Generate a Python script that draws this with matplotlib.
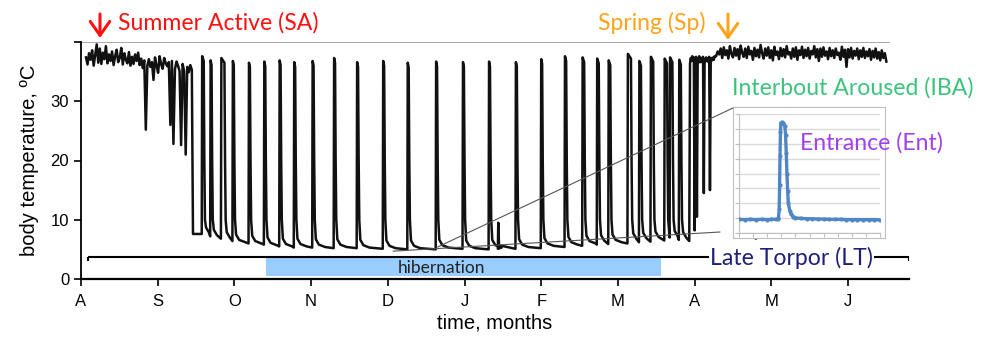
import numpy as np
import matplotlib.pyplot as plt
from matplotlib.patches import ConnectionPatch

plt.rcParams['font.family'] = ['Liberation Sans', 'DejaVu Sans']

months = ['A', 'S', 'O', 'N', 'D', 'J', 'F', 'M', 'A', 'M', 'J']

# summer active body temperature (deg C), read every ~0.02 month
summer_tb = [37.4, 36.2, 38.1, 37.0, 38.6, 36.0, 37.8, 39.6, 36.5, 38.9,
             36.3, 38.2, 37.1, 39.3, 36.4, 37.9, 36.8, 38.4, 36.1, 37.6,
             38.7, 36.6, 37.3, 39.0, 36.2, 38.1, 37.0, 36.4, 38.3, 36.0,
             37.5, 36.3, 37.9, 36.8, 38.2, 36.1, 37.2, 35.6, 36.9, 25.2,
             36.0, 37.1, 35.8, 36.6, 33.6, 37.4, 36.0, 34.8, 37.6, 36.2,
             35.5, 37.3, 36.4, 35.9, 36.6, 26.0, 36.8, 22.8, 35.4, 36.7,
             36.0, 35.1, 22.6, 36.3, 35.0, 21.0, 35.8, 34.9, 36.1, 35.3]

# arousals during hibernation: time (months from 1 Aug), peak Tb,
# torpor Tb before each arousal, time spent euthermic (months)
arousal_t = [1.58, 1.69, 1.83, 1.98, 2.19, 2.39, 2.59, 2.78, 3.02, 3.30,
             3.60, 3.94, 4.26, 4.63, 4.98, 5.32, 5.67, 6.00, 6.31, 6.54,
             6.73, 6.88, 7.13, 7.28, 7.43, 7.61, 7.68, 7.80]
arousal_peak = [37.6, 36.9, 37.3, 36.8, 36.5, 36.7, 36.9, 36.6, 36.8, 37.3,
                36.6, 36.8, 36.5, 36.7, 36.6, 36.7, 36.6, 37.1, 37.6, 37.4,
                37.2, 36.9, 38.0, 36.8, 37.5, 37.2, 37.4, 37.0]
torpor_floor = [7.6, 7.2, 6.8, 6.4, 6.0, 5.8, 5.5, 5.3, 5.3, 5.2,
                5.2, 5.1, 5.0, 5.0, 5.1, 5.0, 5.1, 5.2, 5.4, 5.6,
                5.8, 5.9, 6.0, 6.2, 6.3, 6.5, 7.0, 6.6, 6.4]
arousal_len = [0.02, 0.012, 0.04, 0.012, 0.012, 0.012, 0.012, 0.012, 0.012, 0.012,
               0.012, 0.012, 0.012, 0.012, 0.012, 0.012, 0.012, 0.012, 0.015, 0.02,
               0.02, 0.02, 0.04, 0.02, 0.03, 0.03, 0.03, 0.02]
partial_t = 5.44
partial_peak = 9.5

# end of hibernation, every 0.01 month
late_tb = [36.4, 37.3, 36.8, 37.6, 36.9, 37.4, 8.2, 36.7, 37.5, 10.5,
           37.2, 36.5, 37.6, 37.0, 36.6, 37.3, 36.8, 37.5, 14.5, 37.1,
           36.7, 37.4, 36.9, 37.2, 36.6, 37.5, 15.0, 36.8, 37.3, 36.9,
           37.4, 37.0, 37.6]

# spring active, every 0.02 month
spring_tb = [37.6, 38.4, 37.9, 38.9, 37.3, 39.1, 37.8, 38.6, 37.2, 39.3,
             38.0, 37.4, 39.0, 37.7, 38.8, 37.1, 39.4, 38.2, 37.5, 38.9,
             37.3, 39.2, 37.9, 38.5, 37.0, 39.0, 37.6, 38.7, 37.4, 39.5,
             38.1, 37.2, 38.9, 37.7, 39.1, 37.3, 38.6, 36.9, 39.2, 37.8,
             38.4, 37.1, 39.0, 37.6, 38.8, 37.4, 39.3, 37.9, 38.3, 37.2,
             38.9, 37.5, 39.1, 37.0, 38.6, 37.8, 39.2, 37.3, 38.7, 37.6,
             39.0, 37.2, 38.5, 37.9, 39.3, 37.4, 38.8, 36.8, 38.9, 37.5,
             39.1, 37.7, 38.4, 37.1, 39.0, 37.6, 38.6, 37.3, 38.9, 37.8,
             38.2, 37.0, 39.2, 37.5, 38.7, 35.8, 38.8, 37.4, 39.0, 37.2,
             38.5, 37.7, 38.9, 37.1, 38.6, 37.5, 39.0, 37.3, 38.4, 37.6,
             38.8, 37.0, 38.5, 37.4, 38.9, 37.2, 38.3, 36.9, 38.6, 37.3,
             38.1, 36.7]

hib_start, hib_end = 2.41, 7.56

# inset: one interbout arousal
inset_t = [0.0, 0.4, 0.8, 1.2, 1.6, 2.0, 2.3, 2.6, 2.75, 2.8, 2.85, 2.88, 2.91,
           2.94, 2.97, 3.05, 3.15, 3.25, 3.3, 3.35, 3.4, 3.45, 3.5, 3.6, 3.7,
           3.85, 4.0, 4.4, 4.8, 5.2, 5.6, 6.0, 6.4, 6.8, 7.2, 7.6, 8.0, 8.4,
           8.8, 9.2, 9.6, 10.0]
inset_tb = [4.6, 4.5, 4.6, 4.5, 4.6, 4.5, 4.6, 4.6, 4.7, 5.0, 8.0, 16.0, 26.0,
            34.0, 37.0, 37.2, 36.9, 36.0, 33.0, 27.0, 20.0, 14.0, 10.0, 7.5, 6.3,
            5.5, 5.1, 4.9, 4.8, 4.8, 4.7, 4.7, 4.6, 4.6, 4.6, 4.5, 4.5, 4.5,
            4.5, 4.5, 4.5, 4.4]

# ---- build the trace
t = list(np.linspace(0.065, 1.445, len(summer_tb)))
tb = list(summer_tb)
t.append(1.46)
tb.append(torpor_floor[0])
for i in range(len(arousal_t)):
    a, p, w = arousal_t[i], arousal_peak[i], arousal_len[i]
    f0, f1 = torpor_floor[i], torpor_floor[i + 1]
    nxt = arousal_t[i + 1] - 0.01 if i + 1 < len(arousal_t) else 7.93
    pts = [(a - 0.006, f0), (a, p), (a + w, p - 0.8), (a + w + 0.008, 20),
           (a + w + 0.016, 10), (a + w + 0.03, f1 + 1.5), (a + w + 0.07, f1 + 0.6),
           (a + w + 0.15, f1 + 0.2)]
    for pt in pts:
        if pt[0] < nxt or pt[0] <= a:
            t.append(pt[0])
            tb.append(pt[1])
    if a < partial_t < nxt:
        t += [partial_t - 0.005, partial_t, partial_t + 0.01]
        tb += [f1, partial_peak, f1 + 0.6]
t.append(7.93)
tb.append(torpor_floor[-1])
t += list(np.linspace(7.94, 8.26, len(late_tb)))
tb += late_tb
t += list(np.linspace(8.28, 10.50, len(spring_tb)))
tb += spring_tb

fig = plt.figure(figsize=(9.87, 3.42), dpi=100)
ax = fig.add_axes([81 / 987, 1 - 279 / 342, 828 / 987, 237 / 342])

ax.barh(2.05, hib_end - hib_start, left=hib_start, height=3.1, color='#99ccff', zorder=1)
ax.text(4.7, 1.9, 'hibernation', ha='center', va='center', fontsize=12.5,
        family='Lato', color='#222222')
ax.hlines(3.7, 0.09, 10.79, color='black', lw=1.5, zorder=2)
ax.vlines([0.09, 10.79], 3.1, 3.7, color='black', lw=1.5)

ax.plot(t, tb, color='#111111', lw=1.8, zorder=3)
ax.hlines(40, 0, 10.55, color='#999999', lw=1.2)

ax.set_xlim(0, 10.795)
ax.set_ylim(0, 40)
ax.set_xticks(range(len(months)))
ax.set_xticklabels(months)
ax.set_yticks([0, 10, 20, 30, 40])
ax.set_yticklabels(['0', '10', '20', '30', ''])
ax.tick_params(labelsize=12, length=5, width=1.2)
ax.tick_params(axis='x', pad=6)
for s in ['top', 'right']:
    ax.spines[s].set_visible(False)
ax.spines['left'].set_linewidth(1.3)
ax.spines['bottom'].set_linewidth(1.6)
ax.set_xlabel('time, months', fontsize=14.5, labelpad=3)
ax.set_ylabel('body temperature, ºC', fontsize=14.5, labelpad=8)
ax.patch.set_alpha(0)

# inset
box = fig.add_axes([733 / 987, 1 - 238 / 342, 152 / 987, 131 / 342])
box.set_xticks([])
box.set_yticks([])
for s in box.spines.values():
    s.set_color('#bfbfbf')
ins = fig.add_axes([739 / 987, 1 - 233 / 342, 141 / 987, 119 / 342])
ins.plot(inset_t, inset_tb, color='#4f86c6', lw=2.4, marker='o', ms=2.0, zorder=3)
ins.set_xlim(0, 10)
ins.set_ylim(0, 40)
ins.set_yticks(np.arange(0, 41, 5))
ins.set_xticks(range(11))
ins.set_xticklabels([])
ins.set_yticklabels([])
ins.grid(axis='y', color='#d9d9d9', lw=1)
ins.tick_params(length=3, color='#bfbfbf')
for s in ['top', 'right']:
    ins.spines[s].set_visible(False)
for s in ['left', 'bottom']:
    ins.spines[s].set_color('#bfbfbf')
ins.patch.set_alpha(0)

for xy_a, xy_b in [((4.65, 5.4), (733 / 987, 1 - 108 / 342)),
                   ((4.07, 4.7), (720 / 987, 1 - 232 / 342))]:
    fig.add_artist(ConnectionPatch(xyA=xy_a, coordsA=ax.transData, xyB=xy_b,
                                   coordsB=fig.transFigure, color='#555555', lw=0.8))

# labels and arrows
lab = dict(family='Lato', fontsize=16.6, va='center', ha='left')
fig.text(118 / 987, 1 - 23 / 342, 'Summer Active (SA)', color='#ff1010', **lab)
fig.text(598 / 987, 1 - 23 / 342, 'Spring (Sp)', color='#ffa31a', **lab)
fig.text(732 / 987, 1 - 88 / 342, 'Interbout Aroused (IBA)', color='#3cc47c', **lab)
fig.text(800 / 987, 1 - 143 / 342, 'Entrance (Ent)', color='#a040f0', **lab)
fig.text(710 / 987, 1 - 258 / 342, 'Late Torpor (LT)', color='#202078',
         bbox=dict(facecolor='white', edgecolor='none', pad=1), **lab)


def arrow(x0, y0, x1, y1, color):
    ax.annotate('', xy=(x1 / 987, 1 - y1 / 342), xytext=(x0 / 987, 1 - y0 / 342),
                xycoords='figure fraction', textcoords='figure fraction',
                arrowprops=dict(arrowstyle='->,head_length=0.5,head_width=0.35',
                                lw=2.2, color=color, mutation_scale=20,
                                shrinkA=0, shrinkB=0))


arrow(100, 14, 100, 38, '#ff1010')
arrow(728, 14, 728, 40, '#ffa31a')
arrow(829, 164, 796, 177, '#a040f0')
arrow(742, 236, 764, 221, '#202078')

fig.savefig('out.png', dpi=100)
